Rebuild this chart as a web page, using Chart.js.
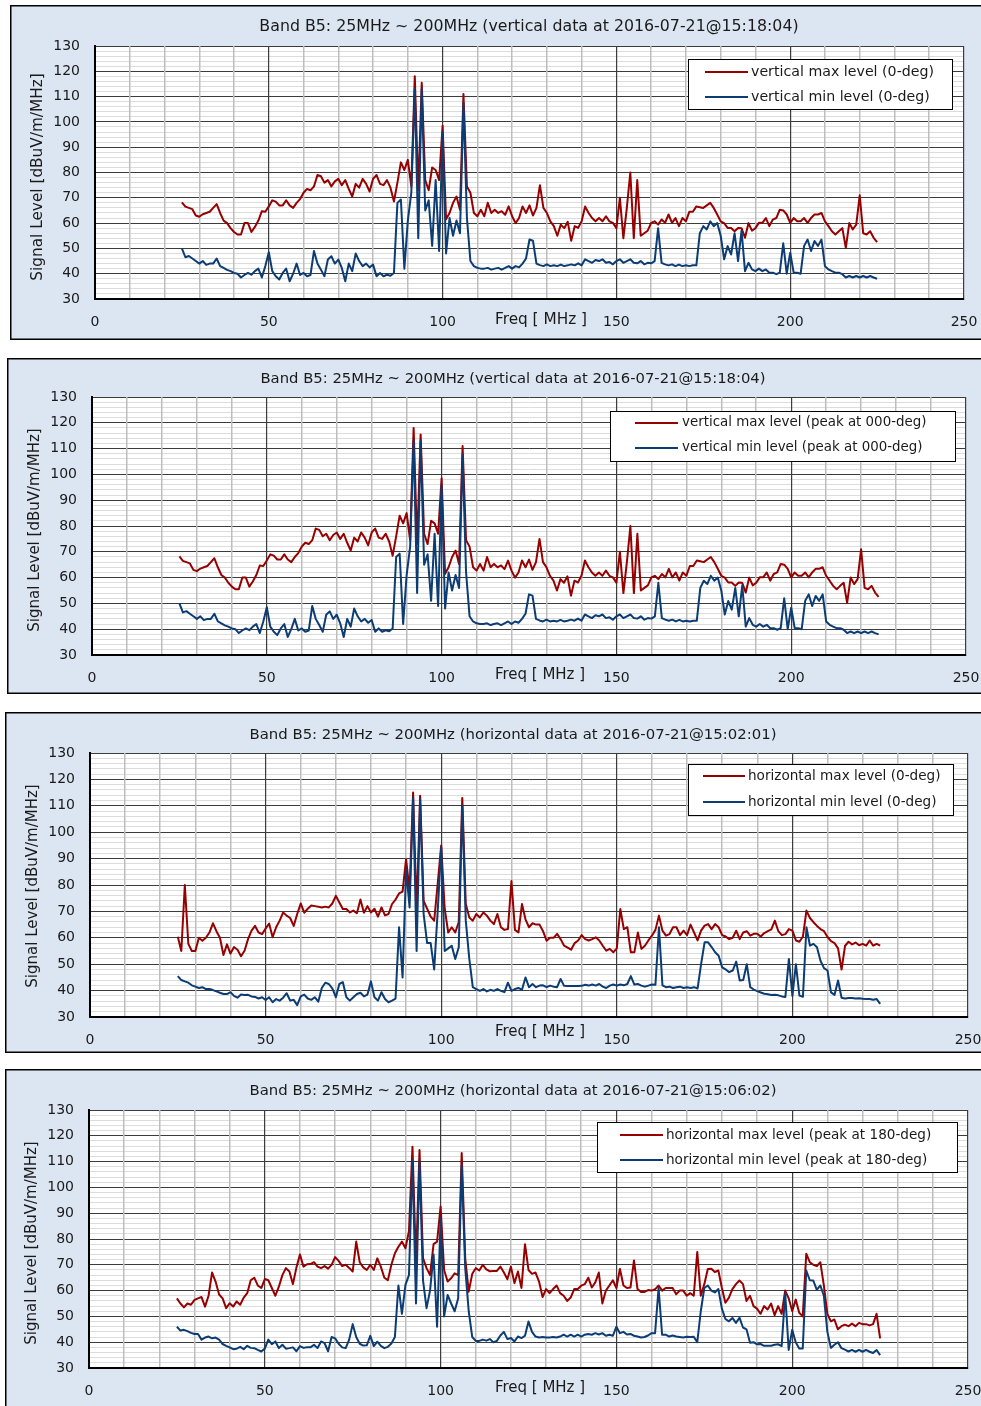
<!DOCTYPE html>
<html>
<head>
<meta charset="utf-8">
<script src="https://cdn.jsdelivr.net/npm/chart.js@4.4.1/dist/chart.umd.min.js"></script>
<style>
  html, body { margin: 0; padding: 0; background: #ffffff; width: 981px; height: 1406px; overflow: hidden; }
  .panel { position: absolute; }
  canvas { display: block; }
</style>
</head>
<body>
<div class="panel"><canvas id="c1"></canvas></div>
<div class="panel"><canvas id="c2"></canvas></div>
<div class="panel"><canvas id="c3"></canvas></div>
<div class="panel"><canvas id="c4"></canvas></div>
<script>
// Sweep grid: one reading per MHz from 25 MHz to 225 MHz (201 readings per trace).
const sweepStartMHz = 25;
const sweepStepMHz = 1;

// Axis ticks
const xTickValues = [0, 50, 100, 150, 200, 250];
const yTickValues = [30, 40, 50, 60, 70, 80, 90, 100, 110, 120, 130];

// Vertical polarisation, 2016-07-21 15:18:04 (dBuV/m/MHz)
const vertMax = [
  /*25*/ 68.2, 66.5, 66, 65.5, 63, 62.5, 63.5, 64, 64.5, 66,
  /*35*/ 67.5, 64, 61, 60, 58, 56.5, 55.5, 55.5, 60, 60,
  /*45*/ 56.5, 58.5, 61, 64.7, 64.5, 66.6, 69, 68.5, 67, 67,
  /*55*/ 69, 67, 66, 68, 69.5, 72, 73.5, 73, 74.5, 79,
  /*65*/ 78.5, 76, 77, 74.5, 76.5, 77.5, 75, 77, 73.5, 70.5,
  /*75*/ 75.5, 74, 77.5, 75.5, 72.5, 77.5, 79, 75.5, 75, 77,
  /*85*/ 74, 68.5, 76, 84, 81, 85, 74.5, 118, 73, 115.5,
  /*95*/ 77, 73, 82, 81, 77, 98.5, 61.5, 64, 68, 70.5,
  /*105*/ 65.3, 111, 74.5, 72, 64, 62.7, 65.3, 62.7, 68, 64,
  /*115*/ 65.3, 64, 64.7, 63.3, 66.6, 62.7, 60, 62, 66.6, 64,
  /*125*/ 67, 63, 66, 75, 66, 64, 60.7, 58.8, 55, 59.4,
  /*135*/ 58, 60.5, 53, 58.8, 58.1, 60.7, 66.6, 64, 62, 60.7,
  /*145*/ 62, 60.7, 62.7, 60.7, 60.1, 58, 70, 54, 66, 80,
  /*155*/ 54, 77, 55, 56, 57, 60.1, 60.7, 59.4, 61.4, 60.1,
  /*165*/ 63.4, 60.1, 62, 58.8, 62, 60.7, 64.5, 64.5, 66.6, 66.3,
  /*175*/ 66, 67, 68, 66, 63.4, 60.7, 60, 58.1, 58.1, 56.8,
  /*185*/ 58.1, 58, 54.2, 60, 57, 58, 60.1, 60.1, 62, 58.8,
  /*195*/ 61.4, 62, 65.3, 65, 63.4, 60.1, 62, 60.7, 60.7, 62,
  /*205*/ 60.1, 62, 63.4, 63.4, 64, 60.7, 58.8, 56.8, 55.5, 56.8,
  /*215*/ 58, 50.2, 60, 57.5, 59.4, 71, 56, 55.5, 56.8, 54.2,
  /*225*/ 52.5
];
const vertMin = [
  /*25*/ 50, 46.5, 47, 46, 45, 44, 45, 43.5, 44, 44,
  /*35*/ 46, 43, 42.3, 41.5, 41, 40.3, 40, 38.5, 39.5, 40.3,
  /*45*/ 39.6, 41, 42, 38.5, 43, 48.5, 41, 39, 37.7, 40.3,
  /*55*/ 42, 37, 40, 44, 39.5, 40.3, 39, 39.5, 49, 44,
  /*65*/ 41.6, 39, 45.6, 46.9, 44, 45.6, 42.3, 37, 44, 41,
  /*75*/ 48, 45, 43, 44, 42.5, 43.6, 39, 40.3, 39, 39.6,
  /*85*/ 39.2, 40.3, 68, 69.3, 42, 61, 72, 113, 54, 113,
  /*95*/ 65, 69, 51, 77, 49, 96, 48, 62, 55, 61,
  /*105*/ 56, 107.5, 62, 45, 43, 42.3, 42, 42, 42.3, 41.6,
  /*115*/ 42, 42.3, 41.6, 42.3, 43, 42, 43, 42.5, 44, 46,
  /*125*/ 53.5, 53, 44, 43.4, 43, 43.7, 43, 43.3, 43, 43.6,
  /*135*/ 43, 43.3, 43.7, 43.3, 44.1, 43.3, 45.7, 45, 44.3, 45.4,
  /*145*/ 45, 45.7, 44.3, 44.6, 43.7, 45, 45.7, 44.3, 45, 45.7,
  /*155*/ 44.3, 44.1, 45, 43.7, 44.3, 44.1, 45, 58, 44.3, 43.7,
  /*165*/ 43.3, 43.7, 43, 43.6, 43, 43.3, 43, 43.3, 43.3, 56,
  /*175*/ 58.8, 57.5, 60.7, 58.8, 60, 55, 45.7, 50.9, 47.6, 56,
  /*185*/ 45, 57, 41, 44.3, 41.7, 41, 42, 41, 41.7, 40.4,
  /*195*/ 40.4, 39.8, 40.4, 52, 40, 48.3, 40.4, 40.4, 40, 51,
  /*205*/ 53.5, 49, 52.9, 51, 53.5, 43, 41.7, 41, 40.4, 40.4,
  /*215*/ 39.8, 38.5, 39.1, 38.5, 39.1, 38.5, 39.1, 38.5, 39.1, 38.5,
  /*225*/ 38
];

// Horizontal polarisation, 2016-07-21 15:02:01, antenna at 0 deg
const horizMax0 = [
  /*25*/ 60.4, 55, 80, 57.7, 55, 55, 60, 58.9, 60, 62,
  /*35*/ 65.5, 62.5, 60, 53.5, 57.5, 54, 56.5, 55.5, 53, 55.1,
  /*45*/ 59.5, 62.7, 64.5, 62, 61.4, 63.5, 65.4, 60.2, 64, 66.5,
  /*55*/ 69.6, 68.4, 67.5, 64.5, 69, 73, 69.5, 71, 72.2, 72,
  /*65*/ 71.8, 71.5, 71.8, 71.5, 73, 75.9, 73.4, 70.9, 70.9, 69.6,
  /*75*/ 70.3, 69.3, 74.5, 69.5, 72, 69.6, 71, 68, 71.5, 68.5,
  /*85*/ 69, 72.8, 74.5, 76.8, 77.5, 89.8, 77.8, 115, 70.5, 113.8,
  /*95*/ 74, 71, 68, 66.5, 80.4, 95, 71, 62, 64, 62,
  /*105*/ 66, 113, 72.8, 67.7, 66.5, 69, 67.7, 69.6, 68.4, 66.5,
  /*115*/ 65.2, 69, 64, 63, 63.3, 81.5, 63, 62, 72.8, 67,
  /*125*/ 64, 65.5, 65, 65, 62.5, 58.9, 60, 60, 61.5, 59.5,
  /*135*/ 57, 56.3, 55.5, 58, 59, 61, 59.5, 59, 59.5, 60.2,
  /*145*/ 59, 57, 55.1, 55.8, 54.5, 56, 70.9, 63.3, 64, 54.5,
  /*155*/ 54.5, 62, 55.8, 57, 59, 60.8, 63, 68.4, 62.7, 60.8,
  /*165*/ 61.4, 64, 64, 61, 62.7, 61, 65, 62, 59, 62.7,
  /*175*/ 64.6, 65.2, 63.3, 65.2, 64, 61, 60.5, 59.5, 60, 62.7,
  /*185*/ 59.5, 62, 62.5, 60.8, 61.5, 61.5, 60.5, 61.8, 62.5, 63.2,
  /*195*/ 66.5, 62.5, 61, 61.4, 63.3, 62.7, 59, 58.5, 60.5, 70.3,
  /*205*/ 67.5, 65.9, 64.5, 63.3, 62.5, 60.3, 58.7, 58, 56, 48,
  /*215*/ 57, 58.5, 57.5, 58.2, 57.2, 57.7, 57, 59, 57, 57.7,
  /*225*/ 57
];
const horizMin0 = [
  /*25*/ 45.5, 44, 43.5, 43, 42, 41.5, 41, 41.3, 40.6, 40.6,
  /*35*/ 40.2, 39.7, 39.2, 38.7, 38.7, 39.4, 38, 37.3, 38.5, 38.3,
  /*45*/ 38.4, 37.8, 37.6, 37, 37.5, 36.4, 37.5, 35.6, 36.8, 36.2,
  /*55*/ 37.3, 39, 36.2, 36.5, 34.5, 37.8, 38.5, 37, 36.5, 37.5,
  /*65*/ 35.8, 41, 43, 42.5, 40.8, 37.5, 42.5, 43.2, 37.5, 36.2,
  /*75*/ 37.5, 38.7, 39.2, 37.8, 38.5, 43.5, 37.5, 36.2, 39.4, 36.8,
  /*85*/ 35.6, 36.2, 37, 64, 45, 86, 71.5, 113, 55, 112.5,
  /*95*/ 69, 58, 58, 48, 70, 94.2, 55, 56, 57, 52,
  /*105*/ 56.4, 110, 66.5, 52, 41.3, 40.6, 39.9, 40.6, 39.7, 40.3,
  /*115*/ 39.9, 40.6, 39.9, 39.4, 43, 39.9, 40.6, 41, 40.3, 45,
  /*125*/ 41.3, 42.5, 41.3, 41.9, 42, 41.3, 41.9, 41.5, 41.3, 44.4,
  /*135*/ 41.8, 41.7, 41.7, 41.7, 41.7, 41.8, 42.2, 41.9, 42.3, 41.9,
  /*145*/ 42.5, 41.5, 41, 41.9, 42.3, 41.9, 42.3, 42, 42.5, 45.5,
  /*155*/ 42.3, 42.5, 41.9, 41.5, 41.9, 42.3, 42.2, 64, 42, 41.3,
  /*165*/ 41.5, 41, 41.3, 41.5, 41, 41.3, 41, 41.3, 40.8, 50,
  /*175*/ 58.3, 58.3, 56.5, 54.5, 53.2, 48.8, 48, 47, 47.6, 51,
  /*185*/ 43.8, 44, 50, 41.3, 40.4, 39.8, 39.3, 38.8, 38.6, 38.3,
  /*195*/ 38.4, 38.2, 37.8, 37.6, 52, 38, 50, 38.1, 37.7, 64,
  /*205*/ 57, 57.7, 56.4, 51.3, 48.5, 47.6, 39.3, 38.4, 43.8, 37.3,
  /*215*/ 37, 37.2, 37.2, 37, 37.1, 36.9, 36.8, 36.8, 36.5, 36.8,
  /*225*/ 35
];

// Horizontal polarisation, 2016-07-21 15:06:02, peak at 180 deg
const horizMax180 = [
  /*25*/ 57, 55, 53.5, 55, 54.5, 56.4, 57, 57.5, 53.8, 58,
  /*35*/ 67, 63.5, 58.5, 57, 53.2, 55.1, 53.8, 55.8, 54.5, 57.3,
  /*45*/ 59, 64, 65, 62, 61, 64.5, 64, 61, 58, 61.5,
  /*55*/ 66, 68.7, 67.4, 62.5, 69, 74, 69.3, 70.2, 70.3, 71,
  /*65*/ 69.3, 68.7, 69.5, 68.5, 70, 73, 71.5, 69.5, 70, 68.8,
  /*75*/ 67.4, 79, 71, 69, 68, 70, 68, 72.5, 69.3, 65,
  /*85*/ 64, 70, 74.5, 77, 79, 76.4, 83, 115.8, 70.5, 114.5,
  /*95*/ 72.6, 68.7, 66, 78, 79, 92.6, 68, 63.5, 64.8, 66.7,
  /*105*/ 66, 113.3, 72.6, 59.6, 66.5, 68.7, 67.8, 70, 68.2, 67.5,
  /*115*/ 67.6, 67.6, 69.3, 67, 64.4, 69.3, 62.9, 67.4, 61, 78,
  /*125*/ 68, 66.5, 67, 63.5, 57.5, 60.6, 59, 60.6, 62, 59,
  /*135*/ 58, 56, 57.3, 60.6, 60.6, 61.9, 62.5, 65, 61.2, 63.2,
  /*145*/ 67, 55, 60, 62, 64, 61, 68.4, 62, 61, 61.2,
  /*155*/ 71.7, 60.6, 59.5, 59.5, 60.2, 60, 60.5, 62, 60, 61,
  /*165*/ 61, 61, 58.6, 60, 60, 58, 59, 58, 75, 58,
  /*175*/ 62.5, 68.4, 68.5, 67.2, 67.8, 61, 55.3, 57.3, 60.6, 62.5,
  /*185*/ 63.9, 62.5, 56, 58, 54, 53, 51, 54, 52.7, 55,
  /*195*/ 50.5, 54, 51, 60, 57, 52.1, 56.5, 51.4, 50, 74.3,
  /*205*/ 71, 70, 69.5, 71, 62, 51, 48.1, 48.8, 45, 46.2,
  /*215*/ 46.8, 46.2, 47.2, 46.2, 47.5, 47, 47, 46.5, 47, 51,
  /*225*/ 41.5
];
const horizMin180 = [
  /*25*/ 46, 44.5, 44.8, 44.3, 43.6, 43.2, 43.2, 41, 41.8, 42.2,
  /*35*/ 41.5, 41.8, 41, 39.3, 38.6, 38, 37.3, 37.5, 38.2, 37.3,
  /*45*/ 38.6, 37.8, 37.7, 37, 36.4, 37.5, 41, 39.2, 40.3, 37.7,
  /*55*/ 39, 37.5, 37.7, 38, 36.5, 38.5, 37.8, 38, 38, 39,
  /*65*/ 37.7, 40.3, 39.6, 36.5, 42, 41.5, 39.4, 38, 37.7, 41,
  /*75*/ 47, 42, 39.4, 38.7, 38.8, 42.5, 38.5, 40.2, 38.6, 37.7,
  /*85*/ 38.2, 39.5, 42, 62, 51, 62.2, 66, 110.5, 55, 110,
  /*95*/ 64, 53.2, 60, 74, 46, 87.9, 50, 58.3, 55, 52,
  /*105*/ 57, 108.7, 68.7, 52, 42, 40.5, 40.5, 41, 40.6, 41.2,
  /*115*/ 40, 40.5, 42.6, 44, 41.2, 41.6, 40.3, 42.2, 41.6, 42.5,
  /*125*/ 48, 44, 42.2, 41.8, 42, 41.8, 41.8, 42, 41.8, 42.2,
  /*135*/ 42.9, 42.2, 42.9, 42.2, 42.9, 42.2, 42.9, 43.2, 42.9, 43.5,
  /*145*/ 43, 43.5, 42.5, 42.9, 42.5, 46, 43.5, 44, 43, 43.2,
  /*155*/ 42.5, 42.2, 41.8, 42, 42.6, 43.5, 43.5, 61, 42.9, 42.9,
  /*165*/ 42.2, 42.6, 42.2, 42, 41.8, 42.1, 42, 42.1, 40, 52,
  /*175*/ 61, 62, 60, 59.3, 60.6, 53, 49, 48.1, 49.4, 47.5,
  /*185*/ 49.5, 45.7, 45, 39.8, 40, 39.2, 39.3, 38.6, 38.6, 38.6,
  /*195*/ 39, 39.2, 38.5, 59, 37, 44.8, 40, 37.6, 37.6, 67.8,
  /*205*/ 64, 63.9, 60.3, 62, 58, 44, 37.8, 39, 40, 37.7,
  /*215*/ 37.1, 36.4, 37, 36.3, 37, 36.3, 37, 36.3, 35.8, 37,
  /*225*/ 35
];

// Texts
const panelTitles = [
  'Band B5: 25MHz ~ 200MHz (vertical data at 2016-07-21@15:18:04)',
  'Band B5: 25MHz ~ 200MHz (vertical data at 2016-07-21@15:18:04)',
  'Band B5: 25MHz ~ 200MHz (horizontal data at 2016-07-21@15:02:01)',
  'Band B5: 25MHz ~ 200MHz (horizontal data at 2016-07-21@15:06:02)'
];
const legendLabels = [
  ['vertical max level (0-deg)', 'vertical min level (0-deg)'],
  ['vertical max level (peak at 000-deg)', 'vertical min level (peak at 000-deg)'],
  ['horizontal max level (0-deg)', 'horizontal min level (0-deg)'],
  ['horizontal max level (peak at 180-deg)', 'horizontal min level (peak at 180-deg)']
];
const yAxisTitle = 'Signal Level [dBuV/m/MHz]';
const xAxisTitle = 'Freq [ MHz ]';

// Which traces go into which panel
const panelSeries = [
  [vertMax, vertMin],
  [vertMax, vertMin],
  [horizMax0, horizMin0],
  [horizMax180, horizMin180]
];

// ---- styling / layout (page pixels) ----
const FONT = '"DejaVu Sans", Verdana, sans-serif';
const MAX_COLOR = '#960000';
const MIN_COLOR = '#0b3c74';
const PANEL_BG = '#dce6f2';
const GRID_MAJOR = '#3c3c3c';
const GRID_MINOR_X = '#bdbdbd';
const GRID_MINOR_Y = '#dcdcdc';

const layouts = [
  { box: { left: 10, top: 5, bottom: 340 }, plot: { left: 95, top: 46, right: 964, bottom: 299 },
    title: { x: 529, y: 27, size: 15.8 }, yTitle: { x: 38, y: 177, size: 15.3 }, xTitle: { x: 541, y: 320, size: 15.3 },
    tickSize: 14, xTickPad: 15,
    legend: { l: 688, t: 59, r: 952, b: 109, line0: 705, line1: 748, text: 751, rows: [72, 97], size: 14.2 } },
  { box: { left: 7, top: 358, bottom: 694 }, plot: { left: 92, top: 397, right: 966, bottom: 655 },
    title: { x: 513, y: 379, size: 14.8 }, yTitle: { x: 35, y: 530, size: 15 }, xTitle: { x: 540, y: 675, size: 15 },
    tickSize: 14, xTickPad: 15,
    legend: { l: 610, t: 411, r: 955, b: 461, line0: 635, line1: 678, text: 682, rows: [423, 448], size: 13.4 } },
  { box: { left: 5, top: 712, bottom: 1053 }, plot: { left: 90, top: 753, right: 968, bottom: 1017 },
    title: { x: 513, y: 735, size: 14.9 }, yTitle: { x: 33, y: 886, size: 15 }, xTitle: { x: 540, y: 1032, size: 15 },
    tickSize: 14, xTickPad: 15,
    legend: { l: 688, t: 764, r: 953, b: 815, line0: 703, line1: 745, text: 748, rows: [776, 802], size: 13.6 } },
  { box: { left: 5, top: 1069, bottom: 1414 }, plot: { left: 89, top: 1110, right: 968, bottom: 1368 },
    title: { x: 513, y: 1091, size: 14.9 }, yTitle: { x: 32, y: 1243, size: 15 }, xTitle: { x: 540, y: 1388, size: 15 },
    tickSize: 14, xTickPad: 15,
    legend: { l: 597, t: 1122, r: 957, b: 1172, line0: 620, line1: 663, text: 666, rows: [1135, 1160], size: 13.6 } }
];

function toPoints(values) {
  return values.map((v, i) => ({ x: sweepStartMHz + i * sweepStepMHz, y: v }));
}

// Panel frame, plot background, titles and the boxed legend
const panelDecor = {
  id: 'panelDecor',
  beforeDraw(chart, args, o) {
    const { ctx, chartArea, width, height } = chart;
    ctx.save();
    ctx.fillStyle = PANEL_BG;
    ctx.fillRect(0, 0, width, height);
    ctx.strokeStyle = '#000';
    ctx.lineWidth = 1.5;
    ctx.strokeRect(0.75, 0.75, width - 1.5, height - 1.5);
    ctx.fillStyle = '#ffffff';
    ctx.fillRect(chartArea.left, chartArea.top, chartArea.right - chartArea.left, chartArea.bottom - chartArea.top);
    ctx.restore();
  },
  afterDraw(chart, args, o) {
    const { ctx } = chart;
    const L = o.layout, ox = L.box.left, oy = L.box.top;
    ctx.save();
    ctx.fillStyle = '#1a1a1a';
    ctx.textBaseline = 'middle';
    // title
    ctx.textAlign = 'center';
    ctx.font = `${L.title.size}px ${FONT}`;
    ctx.fillText(o.title, L.title.x - ox, L.title.y - oy);
    // x axis title
    ctx.font = `${L.xTitle.size}px ${FONT}`;
    ctx.fillText(xAxisTitle, L.xTitle.x - ox, L.xTitle.y - oy);
    // y axis title
    ctx.save();
    ctx.translate(L.yTitle.x - ox, L.yTitle.y - oy);
    ctx.rotate(-Math.PI / 2);
    ctx.font = `${L.yTitle.size}px ${FONT}`;
    ctx.fillText(yAxisTitle, 0, 0);
    ctx.restore();
    // legend
    const g = L.legend;
    ctx.fillStyle = '#ffffff';
    ctx.fillRect(g.l - ox, g.t - oy, g.r - g.l, g.b - g.t);
    ctx.strokeStyle = '#000';
    ctx.lineWidth = 1;
    ctx.strokeRect(g.l - ox + 0.5, g.t - oy + 0.5, g.r - g.l, g.b - g.t);
    ctx.textAlign = 'left';
    ctx.font = `${g.size}px ${FONT}`;
    chart.data.datasets.forEach((ds, i) => {
      const y = g.rows[i] - oy;
      ctx.strokeStyle = ds.borderColor;
      ctx.lineWidth = 2;
      ctx.beginPath();
      ctx.moveTo(g.line0 - ox, y);
      ctx.lineTo(g.line1 - ox, y);
      ctx.stroke();
      ctx.fillStyle = '#1a1a1a';
      ctx.fillText(ds.label, g.text - ox, y);
    });
    ctx.restore();
  }
};

function buildPanel(idx) {
  const L = layouts[idx];
  const canvas = document.getElementById('c' + (idx + 1));
  const W = 981 - L.box.left + 20;
  const H = L.box.bottom - L.box.top;
  canvas.width = W; canvas.height = H;
  canvas.style.width = W + 'px'; canvas.style.height = H + 'px';
  const wrap = canvas.parentElement;
  wrap.style.left = L.box.left + 'px';
  wrap.style.top = L.box.top + 'px';

  const plotL = L.plot.left - L.box.left;
  const plotT = L.plot.top - L.box.top;
  const plotR = L.plot.right - L.box.left;
  const plotB = L.plot.bottom - L.box.top;
  const [maxSeries, minSeries] = panelSeries[idx];
  const tickFont = { family: FONT, size: L.tickSize };

  new Chart(canvas, {
    type: 'line',
    data: {
      datasets: [
        { label: legendLabels[idx][0], data: toPoints(maxSeries), borderColor: MAX_COLOR, borderWidth: 2,
          pointRadius: 0, tension: 0, borderJoinStyle: 'round', fill: false, order: 2 },
        { label: legendLabels[idx][1], data: toPoints(minSeries), borderColor: MIN_COLOR, borderWidth: 2,
          pointRadius: 0, tension: 0, borderJoinStyle: 'round', fill: false, order: 1 }
      ]
    },
    options: {
      responsive: false,
      animation: false,
      devicePixelRatio: 1,
      events: [],
      layout: { padding: { left: 0, top: plotT, right: W - plotR, bottom: 0 } },
      plugins: {
        legend: { display: false },
        tooltip: { enabled: false },
        title: { display: false },
        panelDecor: { layout: L, title: panelTitles[idx] }
      },
      scales: {
        // horizontal grid first (lower z), vertical grid painted over it
        y: {
          type: 'linear', min: 30, max: 130, z: -1,
          afterFit(s) { s.width = plotL; },
          ticks: {
            stepSize: 2, autoSkip: false, maxTicksLimit: 1000,
            padding: 15, color: '#1a1a1a', font: tickFont,
            callback: v => yTickValues.includes(Math.round(v)) ? String(Math.round(v)) : ''
          },
          grid: {
            drawTicks: false,
            color: c => (Math.round(c.tick.value) % 10 === 0) ? GRID_MAJOR : GRID_MINOR_Y,
            lineWidth: 1
          },
          border: { display: true, color: '#000', width: 2 }
        },
        x: {
          type: 'linear', min: 0, max: 250,
          afterFit(s) { s.height = H - plotB; },
          ticks: {
            stepSize: 10, autoSkip: false, maxRotation: 0, maxTicksLimit: 1000,
            padding: L.xTickPad, color: '#1a1a1a', font: tickFont,
            callback: v => xTickValues.includes(Math.round(v)) ? String(Math.round(v)) : ''
          },
          grid: {
            drawTicks: false,
            color: c => (Math.round(c.tick.value) % 50 === 0) ? GRID_MAJOR : GRID_MINOR_X,
            lineWidth: c => (Math.round(c.tick.value) % 50 === 0) ? 1.2 : 1.5
          },
          border: { display: true, color: '#000', width: 2 }
        }
      }
    },
    plugins: [panelDecor]
  });
}

[0, 1, 2, 3].forEach(buildPanel);
</script>
</body>
</html>
